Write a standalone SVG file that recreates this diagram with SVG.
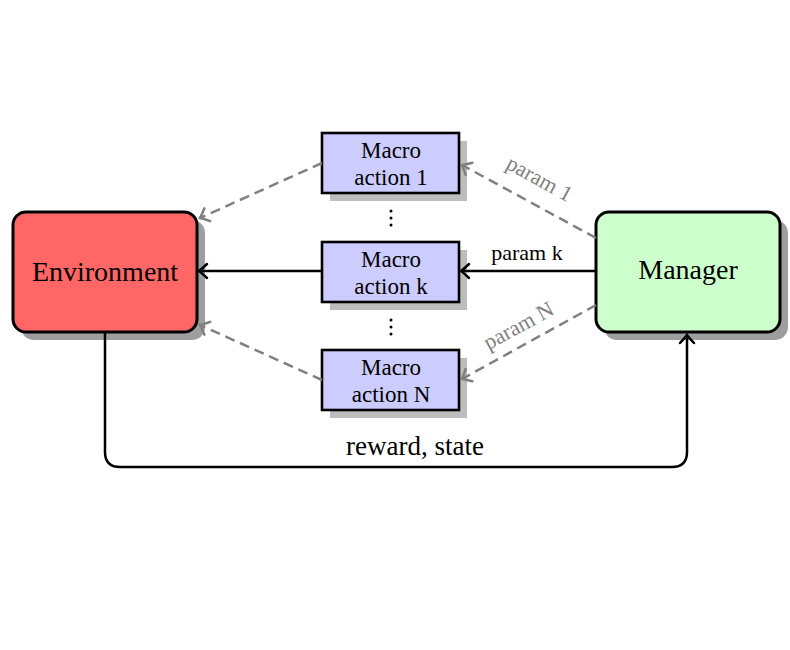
<svg xmlns="http://www.w3.org/2000/svg" width="790" height="650" viewBox="0 0 790 650">
<defs>
<style>
.big{stroke:#000;stroke-width:3}
.mac{fill:#ccccff;stroke:#000;stroke-width:2.6}
.shadowA{fill:#9e9e9e}
.shadowB{fill:#bdbdbd}
.t{font-family:"Liberation Serif","Times New Roman",serif;fill:#000;text-anchor:middle}
.g{fill:#808080}
.solid{fill:none;stroke:#000;stroke-width:2.5}
.dash{fill:none;stroke:#808080;stroke-width:2.5;stroke-dasharray:10,6}
.dot{fill:#000}
</style>
<marker id="ak" markerUnits="userSpaceOnUse" markerWidth="24" markerHeight="24" refX="0" refY="0" viewBox="-12 -12 24 24" orient="auto" overflow="visible">
<path d="M-8,-7 Q-2.5,-1.8 0,0 Q-2.5,1.8 -8,7" fill="none" stroke="#000" stroke-width="2.5" stroke-linecap="round"/>
</marker>
<marker id="ag" markerUnits="userSpaceOnUse" markerWidth="24" markerHeight="24" refX="0" refY="0" viewBox="-12 -12 24 24" orient="auto" overflow="visible">
<path d="M-8,-7 Q-2.5,-1.8 0,0 Q-2.5,1.8 -8,7" fill="none" stroke="#808080" stroke-width="2.5" stroke-linecap="round"/>
</marker>
</defs>
<rect width="790" height="650" fill="#fff"/>

<g id="environment">
<rect class="shadowA" x="21" y="220" width="184" height="120" rx="13"/>
<rect class="big" x="13" y="212" width="184" height="120" rx="13" fill="#ff6666"/>
<text class="t" x="105" y="281" font-size="28">Environment</text>
</g>

<g id="manager">
<rect class="shadowA" x="604" y="220" width="184" height="120" rx="13"/>
<rect class="big" x="596" y="212" width="184" height="120" rx="13" fill="#ccffcc"/>
<text class="t" x="688" y="279" font-size="28">Manager</text>
</g>

<g id="macro1">
<rect class="shadowB" x="330" y="141" width="137" height="60"/>
<rect class="mac" x="322" y="133" width="137" height="60"/>
<text class="t" x="391" y="158" font-size="23">Macro</text>
<text class="t" x="391" y="185" font-size="23">action 1</text>
</g>

<g id="macrok">
<rect class="shadowB" x="330" y="250" width="137" height="60"/>
<rect class="mac" x="322" y="242" width="137" height="60"/>
<text class="t" x="391" y="267" font-size="23">Macro</text>
<text class="t" x="391" y="294" font-size="23">action k</text>
</g>

<g id="macroN">
<rect class="shadowB" x="330" y="358" width="137" height="60"/>
<rect class="mac" x="322" y="350" width="137" height="60"/>
<text class="t" x="391" y="375" font-size="23">Macro</text>
<text class="t" x="391" y="402" font-size="23">action N</text>
</g>

<g id="dots1">
<circle class="dot" cx="391" cy="211" r="1.5"/>
<circle class="dot" cx="391" cy="218" r="1.5"/>
<circle class="dot" cx="391" cy="225" r="1.5"/>
</g>
<g id="dots2">
<circle class="dot" cx="391" cy="320" r="1.5"/>
<circle class="dot" cx="391" cy="327" r="1.5"/>
<circle class="dot" cx="391" cy="334" r="1.5"/>
</g>

<g id="connectors">
<path class="solid" d="M596,271 H461" marker-end="url(#ak)"/>
<path class="solid" d="M322,271 H199" marker-end="url(#ak)"/>
<path class="dash" d="M596,238 L462,165" marker-end="url(#ag)"/>
<path class="dash" d="M596,305 L462,379" marker-end="url(#ag)"/>
<path class="dash" d="M322,163 L200,218" marker-end="url(#ag)"/>
<path class="dash" d="M322,380 L200,325" marker-end="url(#ag)"/>
<path class="solid" d="M105,333 V452 Q105,467 120,467 H672 Q687,467 687,452 V335" marker-end="url(#ak)"/>
<text class="t" x="527" y="260" font-size="22">param k</text>
<text class="t g" x="0" y="0" font-size="22" transform="translate(536,185) rotate(28.7)">param 1</text>
<text class="t g" x="0" y="0" font-size="22" transform="translate(522,332) rotate(-28.7)">param N</text>
<text class="t" x="415" y="455" font-size="27">reward, state</text>
</g>
</svg>
